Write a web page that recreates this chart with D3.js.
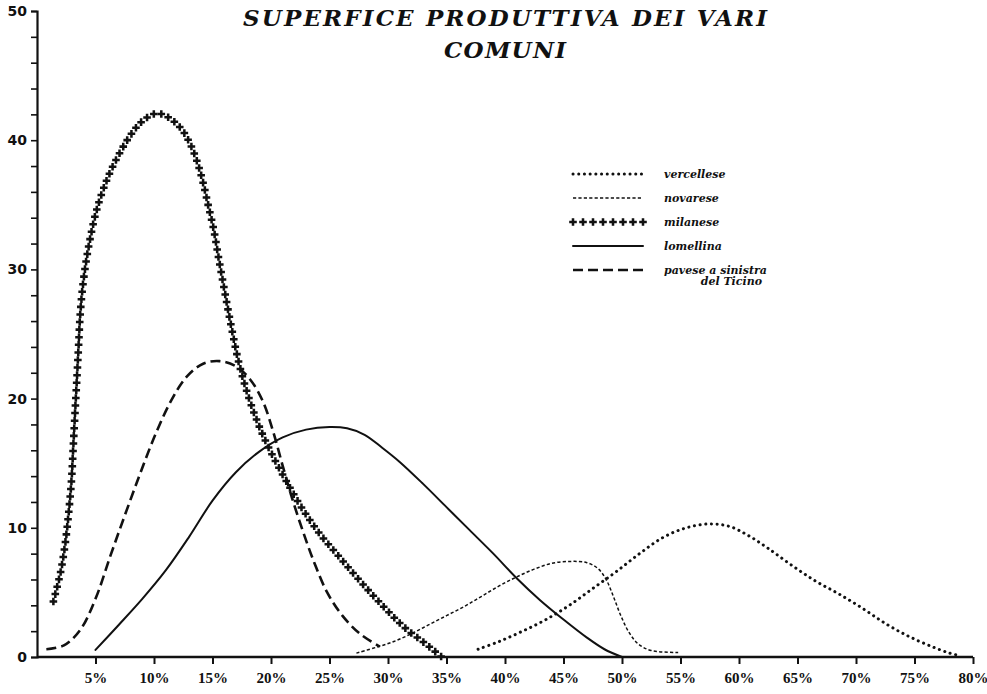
<!DOCTYPE html>
<html>
<head>
<meta charset="utf-8">
<script src="https://cdn.jsdelivr.net/npm/d3@7"></script>
<style>
  html, body { margin: 0; padding: 0; background: #fff; }
  svg { display: block; }
</style>
</head>
<body>
<svg id="chart" width="987" height="694"></svg>
<script>
// ---------------- DATA ----------------
const titleLines = ["SUPERFICE  PRODUTTIVA  DEI  VARI", "COMUNI"];
const seriesNames = ["vercellese", "novarese", "milanese", "lomellina", "pavese a sinistra"];
const legendExtra = "del Ticino";
const xTickValues = [5, 10, 15, 20, 25, 30, 35, 40, 45, 50, 55, 60, 65, 70, 75, 80];
const yTickValues = [0, 10, 20, 30, 40, 50];
const yMinorTickValues = d3.range(0, 51, 2);

// [percent, number of comuni]
const vercellese = [
  [37.7,0.6],[39.5,1.2],[41.5,2.0],[43.5,2.9],[45.5,4.0],[47.5,5.3],[49.5,6.6],[51.5,8.0],
  [53.5,9.25],[55.5,10.0],[57.5,10.3],[59.2,10.1],[60.8,9.4],[62.5,8.4],[64.5,7.1],[66.5,5.9],
  [68.5,4.9],[70.5,3.8],[72.5,2.6],[74.5,1.6],[76.5,0.8],[78.0,0.3],[78.9,0.1]
];
const novarese = [
  [27.3,0.3],[29.0,0.75],[30.5,1.2],[32.0,1.8],[33.5,2.5],[35.0,3.2],[36.5,3.9],[38.0,4.7],
  [39.5,5.5],[41.0,6.2],[42.5,6.8],[44.0,7.25],[45.6,7.4],[47.0,7.3],[48.0,6.8],[48.7,5.9],
  [49.3,4.6],[49.9,3.2],[50.6,1.9],[51.4,1.0],[52.5,0.5],[54.8,0.35]
];
const milanese = [
  [1.4,4.3],[2.0,6.5],[2.4,8.7],[2.7,11.1],[2.95,13.7],[3.1,16.3],[3.25,18.9],[3.4,21.4],
  [3.55,24.0],[3.7,26.6],[3.95,29.0],[4.4,31.7],[5.1,34.6],[6.0,37.0],[7.0,38.9],[8.0,40.4],
  [8.9,41.4],[9.9,42.0],[10.5,42.05],[11.5,41.6],[12.4,40.8],[13.1,39.7],[13.7,38.3],[14.2,36.7],
  [14.6,35.1],[15.1,33.1],[15.5,31.0],[16.0,28.5],[16.6,25.6],[17.3,22.6],[18.2,19.8],[19.2,17.4],
  [20.3,15.3],[21.5,13.3],[22.8,11.3],[24.2,9.5],[25.6,8.0],[27.3,6.2],[29.3,4.2],[31.4,2.3],
  [33.1,1.1],[34.6,0.0]
];
const lomellina = [
  [5.0,0.55],[7.0,2.5],[9.0,4.5],[11.0,6.7],[13.0,9.3],[15.0,12.1],[17.0,14.3],[19.0,15.9],
  [21.0,17.0],[23.0,17.6],[25.0,17.8],[26.5,17.7],[28.0,17.2],[29.5,16.2],[31.0,15.1],[33.0,13.4],
  [35.0,11.6],[37.0,9.8],[39.0,8.0],[41.0,6.1],[43.0,4.4],[45.0,2.9],[47.0,1.5],[48.5,0.6],[50.0,0.0]
];
const pavese = [
  [0.8,0.6],[2.3,0.9],[3.7,2.1],[5.0,4.5],[6.3,7.9],[7.6,11.2],[8.9,14.4],[10.2,17.4],
  [11.5,19.9],[12.8,21.7],[14.2,22.7],[15.6,22.9],[17.0,22.5],[18.2,21.5],[19.3,19.8],[20.2,17.4],
  [21.0,14.8],[21.8,12.3],[22.7,9.8],[23.7,7.3],[24.8,5.0],[26.1,3.2],[27.6,1.8],[29.3,0.8]
];

// ---------------- DRAW ----------------
const svg = d3.select("#chart");
const x = d3.scaleLinear().domain([0, 80]).range([37, 973]);
const y = d3.scaleLinear().domain([0, 50]).range([657, 11]);

const INK = "#111";
const labelFont = "'DejaVu Serif', 'Liberation Serif', serif";

// title
const title = svg.append("g").attr("fill", INK)
  .attr("font-family", labelFont).attr("font-weight", "bold").attr("font-style", "italic");
title.append("text").attr("x", 505).attr("y", 26).attr("text-anchor", "middle")
  .attr("font-size", 23).attr("textLength", 524).attr("lengthAdjust", "spacing")
  .text(titleLines[0]);
title.append("text").attr("x", 505).attr("y", 58).attr("text-anchor", "middle")
  .attr("font-size", 23).attr("textLength", 122).attr("lengthAdjust", "spacing")
  .text(titleLines[1]);

// axes
const yAxis = d3.axisLeft(y).tickValues(yMinorTickValues).tickSize(6).tickFormat("");
const gy = svg.append("g").attr("transform", `translate(${x(0)},0)`).call(yAxis);
gy.select(".domain").attr("stroke", INK).attr("stroke-width", 2.2);
gy.selectAll(".tick line").attr("stroke", INK).attr("stroke-width", 1.6);

const gyl = svg.append("g");
gyl.selectAll("text").data(yTickValues).join("text")
  .attr("x", 27).attr("y", d => y(d) + 5).attr("text-anchor", "end")
  .attr("font-family", "'DejaVu Sans', sans-serif").attr("font-weight", "bold")
  .attr("font-size", 14).attr("fill", INK).text(d => d);

const xAxis = d3.axisBottom(x).tickValues(xTickValues).tickSize(7).tickFormat(d => d + "%");
const gx = svg.append("g").attr("transform", `translate(0,${y(0)})`).call(xAxis);
gx.select(".domain").attr("stroke", INK).attr("stroke-width", 2.4).attr("d", `M${x(0)},0H${x(80)}`);
gx.selectAll(".tick line").attr("stroke", INK).attr("stroke-width", 2);
gx.selectAll(".tick text").attr("y", 21).attr("dy", "0.35em")
  .attr("font-family", "'Liberation Serif', serif").attr("font-weight", "bold")
  .attr("font-size", 15).attr("fill", INK);

// lines
const line = d3.line().x(d => x(d[0])).y(d => y(d[1])).curve(d3.curveCatmullRom.alpha(0.5));

const styles = {
  vercellese: { width: 3, dash: "0.1 5.6", cap: "round" },
  novarese: { width: 1.5, dash: "3.2 2.2", cap: "butt" },
  lomellina: { width: 2, dash: null, cap: "round" },
  pavese: { width: 2.6, dash: "10 5", cap: "butt" }
};

function drawLine(data, st) {
  return svg.append("path").datum(data).attr("d", line)
    .attr("fill", "none").attr("stroke", INK)
    .attr("stroke-width", st.width).attr("stroke-linecap", st.cap)
    .attr("stroke-dasharray", st.dash);
}
drawLine(vercellese, styles.vercellese);
drawLine(novarese, styles.novarese);
drawLine(lomellina, styles.lomellina);
drawLine(pavese, styles.pavese);

// milanese: crosses along the curve
const cross = d3.symbol().type(d3.symbolCross).size(32);
const milPath = svg.append("path").datum(milanese).attr("d", line)
  .attr("fill", "none").attr("stroke", "none");
const node = milPath.node();
const total = node.getTotalLength();
const step = 7.6;
const pts = d3.range(0, total + 0.01, step).map(l => node.getPointAtLength(l));
svg.append("g").selectAll("path").data(pts).join("path")
  .attr("d", cross).attr("transform", p => `translate(${p.x},${p.y})`)
  .attr("fill", INK);

// legend
const legendRows = [174, 198, 222, 246, 270];
const lx0 = 573, lx1 = 643, tx = 664;
const lg = svg.append("g");
seriesNames.forEach((name, i) => {
  const yy = legendRows[i];
  if (name === "milanese") {
    const n = 8;
    d3.range(n).forEach(k => {
      lg.append("path").attr("d", cross)
        .attr("transform", `translate(${lx0 + k * (lx1 - lx0) / (n - 1)},${yy})`)
        .attr("fill", INK);
    });
  } else {
    const key = name.startsWith("pavese") ? "pavese" : name;
    const st = styles[key];
    lg.append("line").attr("x1", lx0).attr("x2", lx1).attr("y1", yy).attr("y2", yy)
      .attr("stroke", INK).attr("stroke-width", st.width)
      .attr("stroke-linecap", st.cap).attr("stroke-dasharray", st.dash);
  }
  lg.append("text").attr("x", tx).attr("y", yy + 3.5)
    .attr("font-family", labelFont).attr("font-weight", "bold").attr("font-style", "italic")
    .attr("font-size", 11).attr("fill", INK).text(name);
});
lg.append("text").attr("x", 762).attr("y", legendRows[4] + 15).attr("text-anchor", "end")
  .attr("font-family", labelFont).attr("font-weight", "bold").attr("font-style", "italic")
  .attr("font-size", 11).attr("fill", INK).text(legendExtra);
</script>
</body>
</html>
